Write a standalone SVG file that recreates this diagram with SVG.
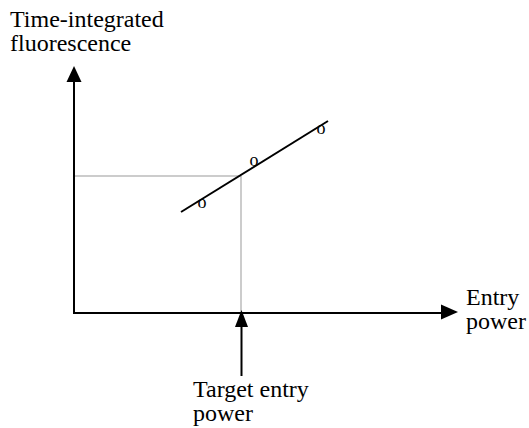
<svg xmlns="http://www.w3.org/2000/svg" width="529" height="428" viewBox="0 0 529 428">
<style>
.lbl{font-family:"Liberation Serif","Times New Roman",serif;font-size:24px;fill:#000}
.pt{font-family:"Liberation Serif","Times New Roman",serif;font-size:18px;fill:#000;text-anchor:middle}
.axis{stroke:#000;stroke-width:2;fill:none}
.guide{stroke:#999;stroke-width:1;fill:none}
.head{fill:#000}
</style>
<rect width="529" height="428" fill="#fff"/>
<g id="connectors">
<line class="guide" x1="75" y1="176" x2="241" y2="176"/>
<line class="guide" x1="241" y1="176" x2="241" y2="312"/>
<line class="axis" x1="74" y1="313" x2="74" y2="80"/>
<polygon class="head" points="74,66 66.5,82 81.5,82"/>
<line class="axis" x1="73" y1="313" x2="443" y2="313"/>
<polygon class="head" points="458,312 441,304.5 441,319.5"/>
<line class="axis" x1="241.5" y1="376" x2="241.5" y2="325"/>
<polygon class="head" points="241.5,310 235,327 248,327"/>
<line class="axis" x1="181" y1="212" x2="328" y2="121"/>
</g>
<g id="points">
<text class="pt" x="202" y="208">o</text>
<text class="pt" x="254" y="166">o</text>
<text class="pt" x="321" y="134">o</text>
</g>
<g id="y-label"><text class="lbl" x="10" y="27">Time-integrated</text><text class="lbl" x="10" y="51">fluorescence</text></g>
<g id="x-label"><text class="lbl" x="466" y="305">Entry</text><text class="lbl" x="466" y="329">power</text></g>
<g id="target-label"><text class="lbl" x="193" y="397">Target entry</text><text class="lbl" x="193" y="421">power</text></g>
</svg>
